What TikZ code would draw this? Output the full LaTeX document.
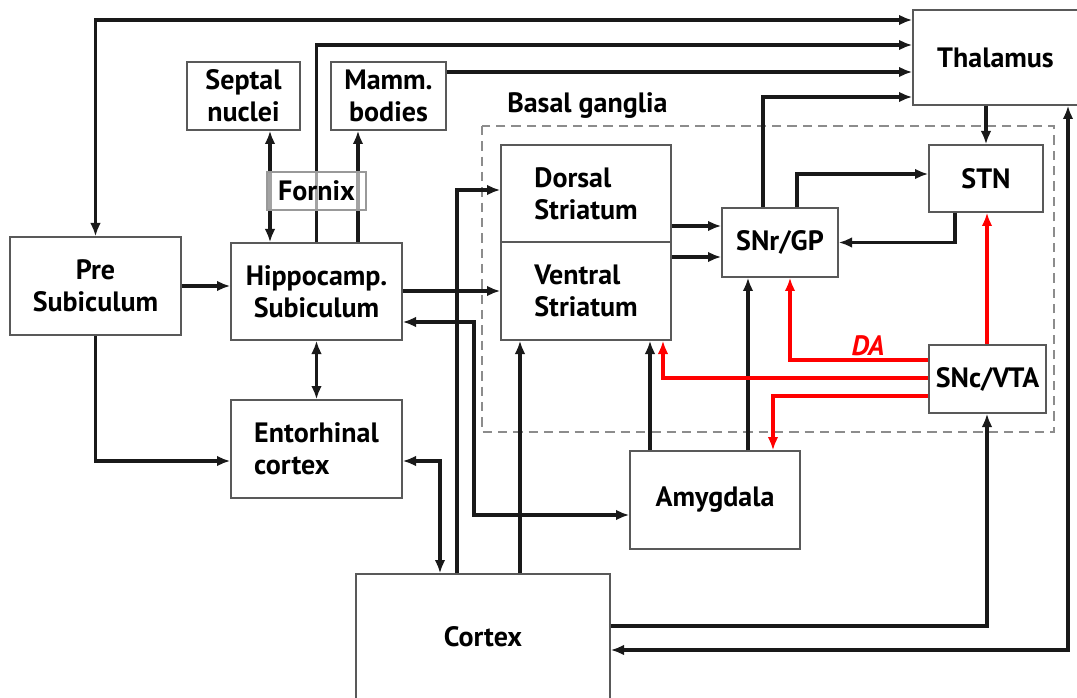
\documentclass[tikz,border=0pt]{standalone}
\usepackage{fontspec}
\setmainfont{PT Sans}
\usetikzlibrary{arrows.meta}
\definecolor{dared}{RGB}{255,0,0}
\begin{document}
\begin{tikzpicture}[x=0.75pt,y=-0.75pt,
  font=\fontsize{21}{24}\selectfont\bfseries,
  box/.style={draw=black!65,line width=1pt,inner sep=0pt,fill=white},
  sz/.style 2 args={minimum width=#1*0.75pt,minimum height=#2*0.75pt},
  conn/.style={line width=2.4pt,black!90},
  arr/.style={conn,-{Latex[length=10pt,width=8pt]}},
  dbl/.style={conn,{Latex[length=10pt,width=8pt]}-{Latex[length=10pt,width=8pt]}},
  rarr/.style={line width=2.3pt,dared,-{Latex[length=10pt,width=8pt]}},
]
\useasboundingbox (0,0) rectangle (1077,698);
\fill[white] (0,0) rectangle (1077,698);

% basal ganglia
\draw[black!45,line width=1.6pt,dash pattern=on 7pt off 4.5pt] (482,126) rectangle (1054,432);
\node[anchor=west,inner sep=0pt] (bglabel) at (507,106) {Basal ganglia};

% boxes
\node[box,sz={165}{95}] (thal) at (995.5,57.5) {Thalamus};
\node[box,sz={113}{68},align=center] (sept) at (243.5,96) {Septal\\nuclei};
\node[box,sz={115}{68},align=center] (mamm) at (388.5,96) {Mamm.\\bodies};
\node[box,sz={171}{98},align=center] (pre) at (95.5,286) {Pre\\Subiculum};
\node[box,sz={171}{97},align=center] (hip) at (316.5,291.5) {Hippocamp.\\Subiculum};
\node[box,sz={171}{98},align=left] (ent) at (316.5,449) {Entorhinal\\cortex};
\node[box,sz={170}{97},align=left] (ds) at (586,193.5) {Dorsal\\Striatum};
\node[box,sz={170}{98},align=left] (vs) at (586,291) {Ventral\\Striatum};
\node[box,sz={116}{69}] (snr) at (780,242.5) {SNr/GP};
\node[box,sz={114}{67}] (stn) at (986,178.5) {STN};
\node[box,sz={117}{68}] (snc) at (987.5,379) {SNc/VTA};
\node[box,sz={170}{98}] (amy) at (715,500) {Amygdala};
\node[box,sz={254}{126}] (cor) at (483,637) {Cortex};

% black connectors
\draw[dbl] (pre.north) |- (thal.west |- 0,20);
\draw[arr] (hip.north) |- (thal.west |- 0,45);
\draw[arr] (mamm.east |- 0,72) -- (thal.west |- 0,72);
\draw[arr] (snr.north -| 763,0) |- (thal.west |- 0,97);
\draw[arr] (thal.south -| stn.north) -- (stn.north);
\draw[arr] (snr.north -| 797,0) |- (stn.west |- 0,174);
\draw[arr] (stn.south -| 955,0) |- (snr.east);
\draw[dbl] (sept.south -| 270,0) -- (hip.north -| 270,0);
\draw[arr] (hip.north -| 358,0) -- (mamm.south -| 358,0);
\draw[arr] (pre.east |- 0,286) -- (hip.west |- 0,286);
\draw[arr] (pre.south) |- (ent.west |- 0,461);
\draw[dbl] (hip.south) -- (ent.north);
\draw[arr] (hip.east |- 0,291) -- (vs.west |- 0,291);
\draw[dbl] (hip.east |- 0,322) -- (474,322) |- (amy.west |- 0,515);
\draw[arr] (cor.north -| 457,0) |- (ds.west |- 0,190);
\draw[arr] (cor.north -| 520,0) -- (vs.south -| 520,0);
\draw[dbl] (ent.east |- 0,461) -| (cor.north -| 440,0);
\draw[arr] (ds.east |- 0,226) -- (snr.west |- 0,226);
\draw[arr] (vs.east |- 0,257) -- (snr.west |- 0,257);
\draw[arr] (amy.north -| 650,0) -- (vs.south -| 650,0);
\draw[arr] (amy.north -| 748,0) -- (snr.south -| 748,0);
\draw[arr] (cor.east |- 0,626) -| (snc.south -| 987,0);
\draw[dbl] (cor.east |- 0,650) -| (thal.south -| 1068,0);

% red (DA) connectors
\draw[rarr] (snc.west |- 0,360) -| (snr.south -| 790,0);
\draw[rarr] (snc.west |- 0,378) -| (vs.south -| 663,0);
\draw[rarr] (snc.west |- 0,396) -| (amy.north -| 773,0);
\draw[rarr] (snc.north -| 987,0) -- (stn.south -| 987,0);
\node[text=dared,font=\fontsize{21}{24}\selectfont\bfseries\itshape,inner sep=0pt] (da) at (868,346) {DA};

% fornix (translucent)
\node[draw=black!40,line width=1pt,fill=white,fill opacity=0.6,text opacity=1,inner sep=0pt,sz={99}{38}] (fornix) at (316.5,191) {Fornix};
\end{tikzpicture}
\end{document}
